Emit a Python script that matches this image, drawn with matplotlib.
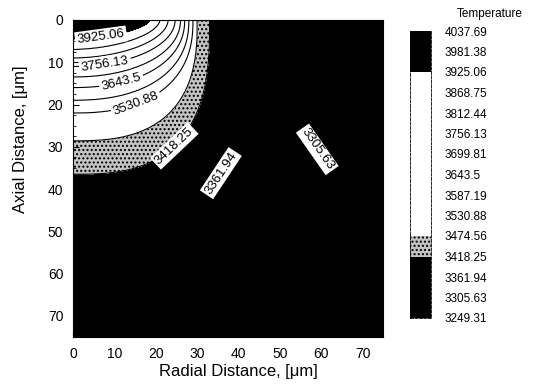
import numpy as np
import matplotlib
matplotlib.use('Agg')
import matplotlib.pyplot as plt
from matplotlib.ticker import MultipleLocator, AutoMinorLocator

plt.rcParams['font.family'] = ['Liberation Sans', 'DejaVu Sans']

# legend levels, low to high
levels = [3249.31, 3305.63, 3361.94, 3418.25, 3474.56, 3530.88, 3587.19, 3643.5,
          3699.81, 3756.13, 3812.44, 3868.75, 3925.06, 3981.38, 4037.69]
level_text = ['3249.31', '3305.63', '3361.94', '3418.25', '3474.56', '3530.88', '3587.19',
              '3643.5', '3699.81', '3756.13', '3812.44', '3868.75', '3925.06', '3981.38', '4037.69']

# isotherm geometry (hottest first):
# where each isotherm meets the top edge (x) and the left edge (y), plus a shape exponent
iso_T = levels[::-1]
iso_a = [4, 12, 18.5, 21, 23, 24.7, 26, 27, 28, 29, 30, 33, 44, 64, 115]
iso_b = [1, 2.5, 4.5, 7, 9, 11, 13.5, 16, 19, 22, 28.6, 36.5, 52, 70, 120]
iso_p = [1.6, 1.6, 1.7, 1.8, 1.9, 2.0, 2.1, 2.2, 2.3, 2.4, 2.7, 2.8, 2.5, 2.2, 2]

# labelled isotherms (low to high) and roughly where their labels sit
label_levels = [3305.63, 3361.94, 3418.25, 3530.88, 3643.5, 3756.13, 3925.06]
label_xy = [(59.3, 30.7), (34.9, 35.7), (24, 29.3), (14.8, 18.7), (11.6, 14.4), (7.7, 10.2), (6.8, 5.0)]

# grey-scale print look: black / speckle / white bands
band_colors = ['black'] * 3 + ['#c4c4c4'] + ['white'] * 8 + ['black'] * 2
band_hatches = [None] * 3 + ['....'] + [None] * 10

# build the temperature field from the isotherm shapes
x = np.linspace(0, 75, 376)
X, Y = np.meshgrid(x, x)
A = np.array(iso_a)[:, None, None]
B = np.array(iso_b)[:, None, None]
P = np.array(iso_p)[:, None, None]
G = ((X / A) ** P + (Y / B) ** P) ** (1 / P)
Tv = np.array(iso_T)
n = len(Tv)
k = (G >= 1).sum(axis=0)
kk = np.clip(k, 1, n - 1)
g_out = np.take_along_axis(G, (kk - 1)[None], 0)[0]
g_in = np.take_along_axis(G, kk[None], 0)[0]
with np.errstate(divide='ignore', invalid='ignore'):
    f = np.clip((g_out - 1) / (g_out - g_in), 0, 1)
T = Tv[kk - 1] + f * (Tv[kk] - Tv[kk - 1])
T = np.where(k == 0, Tv[0], T)
T = np.where(k == n, Tv[-1], T)
T = np.nan_to_num(T, nan=Tv[-1])
T = np.clip(T, min(levels), max(levels))

fig = plt.figure(figsize=(5.33, 3.91), dpi=100)
ax = fig.add_axes([0.137, 0.138, 0.582, 0.811])

cf = ax.contourf(X, Y, T, levels=levels, colors=band_colors, hatches=band_hatches)
plain_levels = [v for v in levels if v not in label_levels]
ax.contour(X, Y, T, levels=plain_levels, colors='black', linewidths=0.8)
cs = ax.contour(X, Y, T, levels=label_levels, colors='black', linewidths=0.8)

ax.set_xlim(0, 75)
ax.set_ylim(75, 0)

fmt = dict(zip(levels, level_text))
txts = ax.clabel(cs, manual=label_xy, fmt=fmt, fontsize=9.5, inline=True, inline_spacing=2)
for t in txts:
    t.set_bbox(dict(boxstyle='square,pad=0.15', fc='white', ec='none'))
    if t.get_text() == '3305.63':
        t.set_rotation(-55)

ax.xaxis.set_major_locator(MultipleLocator(10))
ax.yaxis.set_major_locator(MultipleLocator(10))
ax.xaxis.set_minor_locator(AutoMinorLocator(4))
ax.yaxis.set_minor_locator(AutoMinorLocator(4))
ax.tick_params(which='major', direction='in', length=4, labelsize=10, pad=7)
ax.tick_params(which='minor', direction='in', length=2.5)

ax.set_xlabel('Radial Distance, [μm]', fontsize=12)
ax.set_ylabel('Axial Distance, [μm]', fontsize=12)
ax.xaxis.set_label_coords(0.532, -0.085)
ax.yaxis.set_label_coords(-0.145, 0.625)

cax = fig.add_axes([410 / 533, 1 - 318 / 391, 21 / 533, 287 / 391])
cb = fig.colorbar(cf, cax=cax, ticks=levels)
cb.ax.set_yticklabels(level_text, fontsize=8.5)
cb.ax.tick_params(length=0, pad=10)
cb.outline.set_linewidth(0.6)
cb.outline.set_linestyle('--')

fig.text(0.918, 0.964, 'Temperature', ha='center', va='center', fontsize=8.5)

fig.savefig('out.png', dpi=100)
